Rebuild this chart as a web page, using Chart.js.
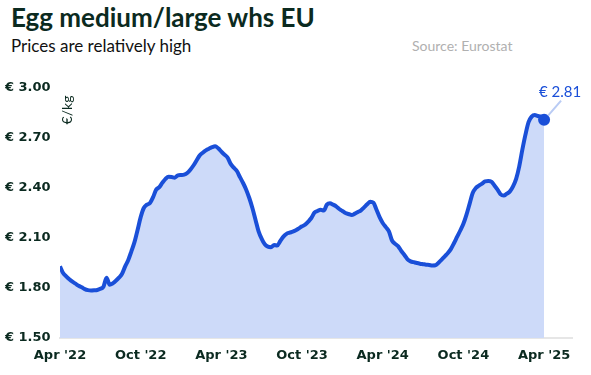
<!DOCTYPE html>
<html>
<head>
<meta charset="utf-8">
<script src="https://cdn.jsdelivr.net/npm/chart.js@4/dist/chart.umd.min.js"></script>
<style>
  html, body { margin: 0; padding: 0; background: #fff; }
  #wrap { position: relative; width: 591px; height: 375px; overflow: hidden; }
  #title { position: absolute; left: 11px; top: 1px; font: bold 26px Lato, sans-serif; color: #0b2a20; white-space: nowrap; }
  #sub { position: absolute; left: 11px; top: 35px; font: 17px Lato, sans-serif; color: #111; white-space: nowrap; }
  #src { position: absolute; left: 412px; top: 37px; font: 14px Lato, sans-serif; color: #b0b0b0; white-space: nowrap; }
  canvas { position: absolute; left: 0; top: 0; }
</style>
</head>
<body>
<div id="wrap">
  <div id="title">Egg medium/large whs EU</div>
  <div id="sub">Prices are relatively high</div>
  <div id="src">Source: Eurostat</div>
  <canvas id="c" width="591" height="375"></canvas>
</div>
<script>
// 주간 시세 (week 0 = Apr '22, week 156 = Apr '25), 그림에서 읽은 값
const prices = [
  1.930, 1.890, 1.870, 1.853, 1.838, 1.826, 1.813, 1.804, 1.793, 1.787,
  1.785, 1.786, 1.788, 1.795, 1.808, 1.862, 1.820, 1.828, 1.843, 1.862,
  1.885, 1.930, 1.968, 2.020, 2.075, 2.148, 2.225, 2.280, 2.300, 2.310,
  2.345, 2.390, 2.405, 2.432, 2.455, 2.468, 2.466, 2.462, 2.476, 2.478,
  2.480, 2.490, 2.510, 2.535, 2.565, 2.595, 2.612, 2.626, 2.636, 2.645,
  2.650, 2.638, 2.618, 2.600, 2.582, 2.545, 2.522, 2.502, 2.465, 2.430,
  2.390, 2.340, 2.280, 2.210, 2.140, 2.095, 2.062, 2.048, 2.045, 2.058,
  2.055, 2.082, 2.108, 2.125, 2.132, 2.138, 2.146, 2.158, 2.170, 2.180,
  2.198, 2.220, 2.252, 2.262, 2.270, 2.265, 2.300, 2.308, 2.300, 2.290,
  2.274, 2.262, 2.250, 2.244, 2.238, 2.246, 2.256, 2.266, 2.284, 2.302,
  2.318, 2.312, 2.270, 2.225, 2.190, 2.165, 2.140, 2.085, 2.065, 2.050,
  2.022, 1.998, 1.972, 1.960, 1.955, 1.950, 1.946, 1.943, 1.940, 1.938,
  1.935, 1.936, 1.952, 1.970, 1.990, 2.010, 2.035, 2.070, 2.108, 2.145,
  2.185, 2.240, 2.305, 2.370, 2.400, 2.414, 2.426, 2.440, 2.442, 2.438,
  2.415, 2.390, 2.362, 2.355, 2.366, 2.380, 2.410, 2.455, 2.530, 2.630,
  2.720, 2.795, 2.828, 2.838, 2.832, 2.828, 2.810
];
const tickWeeks = [0, 26, 52, 78, 104, 130, 156];
const tickLabels = ["Apr '22", "Oct '22", "Apr '23", "Oct '23", "Apr '24", "Oct '24", "Apr '25"];
const yTicks = [1.5, 1.8, 2.1, 2.4, 2.7, 3.0];
const unitLabel = "€/kg";

const C = { line: "#1a4fd8", fill: "#cddaf9", ink: "#0b2a20", base: "#e6e6e6", lead: "#b9cbf4" };
const points = prices.map((v, i) => ({ x: i, y: v }));
const lastIdx = prices.length - 1;

// 마지막 값 라벨 + 단위 텍스트
const extras = {
  id: "extras",
  afterDatasetsDraw(chart) {
    const { ctx, chartArea, scales } = chart;
    const px = scales.x.getPixelForValue(lastIdx), py = scales.y.getPixelForValue(prices[lastIdx]);
    ctx.save();
    ctx.strokeStyle = C.lead; ctx.lineWidth = 2;
    ctx.beginPath(); ctx.moveTo(px + 4, py - 4); ctx.lineTo(px + 17, py - 19); ctx.stroke();
    ctx.fillStyle = C.line; ctx.font = "15px Lato, sans-serif";
    ctx.textAlign = "center"; ctx.textBaseline = "middle";
    ctx.fillText("€ " + prices[lastIdx].toFixed(2), px + 16, py - 28);
    ctx.fillStyle = C.ink; ctx.font = "14px Lato, sans-serif";
    ctx.translate(chartArea.left + 7, chartArea.top + 22);
    ctx.rotate(-Math.PI / 2);
    ctx.fillText(unitLabel, 0, 0);
    ctx.restore();
  },
};

new Chart(document.getElementById("c"), {
  type: "line",
  data: { datasets: [{
    data: points, borderColor: C.line, borderWidth: 4, backgroundColor: C.fill,
    fill: "start", tension: 0.3, cubicInterpolationMode: "monotone",
    pointRadius: points.map((p, i) => (i === lastIdx ? 6 : 0)),
    pointBackgroundColor: C.line, pointBorderWidth: 0,
  }] },
  options: {
    responsive: false, animation: false,
    layout: { padding: { left: 5, right: 19, top: 88, bottom: 0 } },
    plugins: { legend: { display: false }, tooltip: { enabled: false } },
    scales: {
      x: {
        type: "linear", min: 0, max: 165,
        afterBuildTicks: (s) => { s.ticks = tickWeeks.map((v) => ({ value: v })); },
        afterFit: (s) => { s.height = 37; },
        ticks: { autoSkip: false, maxRotation: 0, padding: 10, color: C.ink,
          font: { family: "DejaVu Sans", weight: "bold", size: 13 },
          callback: (v) => tickLabels[tickWeeks.indexOf(v)] },
        grid: { display: false, drawTicks: false },
        border: { display: true, color: C.base, width: 2 },
      },
      y: {
        min: 1.5, max: 3.0,
        afterBuildTicks: (s) => { s.ticks = yTicks.map((v) => ({ value: v })); },
        afterFit: (s) => { s.width = 55; },
        ticks: { crossAlign: "far", padding: 0, color: C.ink,
          font: { family: "DejaVu Sans", weight: "bold", size: 13 },
          callback: (v) => "€ " + v.toFixed(2) },
        grid: { display: false, drawTicks: false },
        border: { display: false },
      },
    },
  },
  plugins: [extras],
});
</script>
</body>
</html>
